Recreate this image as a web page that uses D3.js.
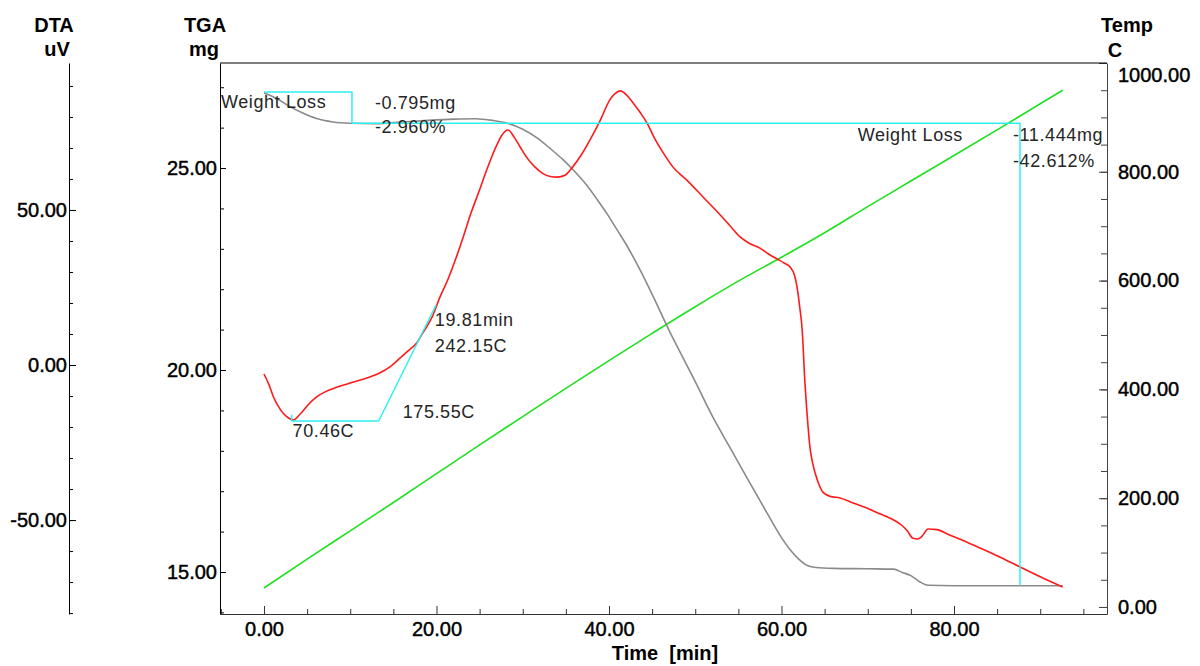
<!DOCTYPE html>
<html>
<head>
<meta charset="utf-8">
<script src="https://cdn.jsdelivr.net/npm/d3@7"></script>
<style>
  body { margin: 0; background: #fff; }
  svg { font-family: "Liberation Sans", Arial, sans-serif; }
</style>
</head>
<body>
<div id="chart"></div>
<script>
// TGA (mg) vs time (min)
const tgaTime = [0, 1.5, 3, 4.5, 6, 8, 10, 13, 16, 19, 22, 24.5, 26.5, 28.2, 30, 31.7, 33.2, 34.7, 36, 37.4,
  38.6, 39.8, 41, 42.1, 43.3, 44.4, 45.5, 46.7, 48.2, 50, 52, 54, 56, 58, 60, 61, 62, 63, 64, 66, 70, 73,
  74, 75, 76, 77, 80, 85, 90, 92.6];
const tgaMass = [26.86, 26.72, 26.52, 26.36, 26.23, 26.14, 26.11, 26.10, 26.14, 26.18, 26.21, 26.22, 26.18,
  26.11, 25.96, 25.74, 25.48, 25.20, 24.92, 24.58, 24.23, 23.86, 23.45, 23.07, 22.60, 22.14, 21.65, 21.10,
  20.46, 19.71, 18.85, 18.09, 17.33, 16.58, 15.85, 15.55, 15.32, 15.16, 15.11, 15.09, 15.08, 15.07, 14.99,
  14.91, 14.76, 14.67, 14.66, 14.66, 14.66, 14.66];

// DTA (uV) vs time (min)
const dtaTime = [0, 0.6, 1.1, 1.7, 2.2, 2.8, 3.4, 4.2, 5.0, 6.1, 7.2, 8.5, 10, 11.9, 13.4, 14.6, 15.8, 16.8,
  17.7, 18.4, 19.5, 20.4, 21.3, 22.2, 23.1, 24.0, 25.0, 25.7, 26.4, 27.0, 27.6, 28.3, 29.0, 29.7, 30.5, 31.4,
  32.3, 33.2, 34.0, 34.9, 35.8, 36.8, 37.8, 39.0, 40.1, 40.7, 41.3, 42.0, 42.8, 43.6, 44.4, 45.3, 46.3, 47.4,
  49.0, 50.9, 52.9, 54.0, 55.2, 56.3, 57.5, 58.5, 59.5, 60.3, 61.0, 61.5, 61.8, 62.1, 62.4,
  62.7, 63.0, 63.3, 63.6, 63.9, 64.3, 64.8, 65.6, 66.8, 68.3, 69.9, 71.4, 72.9, 73.9, 74.6, 75.2, 75.8, 76.3,
  77.0, 78.0, 79.5, 81.0, 83.0, 85.3, 87.7, 90.0, 92.6];
const dtaValue = [-2.9, -6.5, -10.3, -13.5, -15.5, -17.0, -17.7, -15.8, -13.2, -10.3, -8.5, -7.1, -5.8, -4.2,
  -2.6, -0.6, 2.3, 4.8, 7.1, 10.3, 15.5, 21.9, 27.4, 34.0, 41.3, 49.0, 56.5, 62.0, 67.1, 71.0, 74.2, 75.8,
  73.5, 70.3, 66.8, 63.9, 61.8, 60.8, 60.6, 61.2, 63.9, 67.8, 72.6, 79.0, 85.5, 87.5, 88.4, 87.2, 84.5, 81.5,
  78.1, 73.0, 68.4, 63.9, 59.7, 54.2, 48.4, 45.0, 41.3, 39.2, 37.7, 35.8, 34.2, 32.9, 31.6,
  29.0, 25.2, 19.0, 11.3, -4.8, -17.0, -26.5, -31.5, -34.8, -38.2, -41.0, -42.3, -42.9, -44.5, -46.1, -48.0,
  -49.8, -51.6, -53.5, -55.8, -56.1, -55.2, -52.9, -53.1, -54.8, -56.5, -59.0, -61.9, -65.2, -68.3, -71.6];

// Temperature (C) vs time (min)
const tempTime = [0, 5, 10, 15, 20, 25, 30, 35, 40, 45, 50, 55, 60, 65, 70, 75, 80, 85, 90, 92.6];
const tempValue = [35, 88, 140, 192, 245, 298, 350, 402, 453, 503, 552, 599, 643, 688, 736, 783, 830, 877, 925, 950];

// weight loss steps: [time, mg]
const weightLoss1 = [[0, 26.88], [10.2, 26.88], [10.2, 26.11]];
const weightLoss2 = [[10.2, 26.11], [87.65, 26.11], [87.65, 14.67]];
const weightLoss1Text = ['Weight Loss', '-0.795mg', '-2.960%'];
const weightLoss2Text = ['Weight Loss', '-11.444mg', '-42.612%'];

// DTA onset construction: [time, uV]
const onsetBase = [[3.2, -18.06], [13.3, -18.06]];
const onsetTangent = [[13.3, -18.06], [19.95, 19.35]];
const onsetTick = [[3.2, -18.06], [3.2, -16.0]];
const onsetText = ['70.46C', '175.55C', '19.81min', '242.15C'];

// ticks
const timeTicks = [0, 20, 40, 60, 80];
const tgaTicks = [15, 20, 25];
const dtaTicks = [-50, 0, 50];
const tempTicks = [0, 200, 400, 600, 800, 1000];

const margin = {
  top: 63, right: 93, bottom: 52, left: 220,
};
const width = 1200 - margin.left - margin.right;
const height = 666 - margin.top - margin.bottom;

const x = d3.scaleLinear().domain([-5.1, 97.74]).range([0, width]);
const yTGA = d3.scaleLinear().domain([13.96, 27.6]).range([height, 0]);
const yDTA = d3.scaleLinear().domain([-80.3, 97.4]).range([height, 0]);
const yTemp = d3.scaleLinear().domain([-12.9, 1000]).range([height, 0]);

const svg = d3.select('#chart').append('svg')
  .attr('width', 1200)
  .attr('height', 666)
  .append('g')
  .attr('transform', `translate(${margin.left},${margin.top})`);

const fmt = (d) => d.toFixed(2);
const styleAxis = (g, col) => g.attr('font-size', 20)
  .attr('font-family', '"Liberation Sans", Arial, sans-serif')
  .style('color', col)
  .call((s) => s.selectAll('text').attr('fill', '#000')
    .attr('stroke', '#000').attr('stroke-width', 0.45));
const noDomain = (g) => g.select('.domain').remove();

// x axis
svg.append('g')
  .attr('transform', `translate(0,${height})`)
  .call(d3.axisBottom(x).tickValues(d3.range(-5, 98, 5).filter((d) => d % 20 !== 0)).tickSize(-5).tickFormat(''))
  .call(noDomain)
  .style('color', '#333');
svg.append('g')
  .attr('transform', `translate(0,${height})`)
  .call(d3.axisBottom(x).tickValues(timeTicks).tickFormat(fmt)
    .tickSizeInner(-8).tickSizeOuter(0).tickPadding(8))
  .call((g) => styleAxis(g, '#333'));

// TGA axis
svg.append('g')
  .call(d3.axisLeft(yTGA).tickValues(d3.range(14, 28, 1)).tickSize(-4).tickFormat(''))
  .call(noDomain)
  .style('color', '#000');
svg.append('g')
  .call(d3.axisLeft(yTGA).tickValues(tgaTicks).tickFormat(fmt)
    .tickSizeInner(-6).tickSizeOuter(0).tickPadding(3))
  .call((g) => styleAxis(g, '#000'));

// DTA axis, detached on the far left
svg.append('g')
  .attr('transform', 'translate(-151,0)')
  .call(d3.axisLeft(yDTA).tickValues(d3.range(-80, 98, 10)).tickSize(-4).tickFormat(''))
  .call(noDomain)
  .style('color', '#000');
svg.append('g')
  .attr('transform', 'translate(-151,0)')
  .call(d3.axisLeft(yDTA).tickValues(dtaTicks).tickFormat(fmt)
    .tickSizeInner(-7).tickSizeOuter(0).tickPadding(2))
  .call((g) => styleAxis(g, '#000'));

// Temp axis on the right
svg.append('g')
  .attr('transform', `translate(${width},0)`)
  .call(d3.axisRight(yTemp).tickValues(d3.range(0, 1001, 50)).tickSize(-6).tickFormat(''))
  .call(noDomain)
  .style('color', '#444');
svg.append('g')
  .attr('transform', `translate(${width},0)`)
  .call(d3.axisRight(yTemp).tickValues(tempTicks).tickFormat(fmt)
    .tickSizeInner(-8).tickSizeOuter(0).tickPadding(11))
  .call((g) => styleAxis(g, '#444'))
  .call((g) => g.selectAll('.tick').filter((d) => d === 1000).select('text').attr('y', 12));

// top frame line
svg.append('line')
  .attr('x1', 0).attr('x2', width)
  .attr('y1', 0).attr('y2', 0)
  .attr('stroke', '#000');

// axis titles
const title = (tx, ty, txt, anchor = 'middle') => svg.append('text')
  .attr('x', tx - margin.left).attr('y', ty - margin.top)
  .attr('text-anchor', anchor)
  .attr('font-size', 20).attr('font-weight', 'bold')
  .style('white-space', 'pre')
  .text(txt);
title(54, 32, 'DTA');
title(57, 56, 'uV');
title(205, 32, 'TGA');
title(204, 56, 'mg');
title(1127, 32, 'Temp');
title(1115, 57, 'C');
title(665, 660, 'Time  [min]');

// curves
const lineOf = (ys) => d3.line().x((d) => x(d[0])).y((d) => ys(d[1])).curve(d3.curveMonotoneX);

svg.append('path')
  .datum(d3.zip(tempTime, tempValue))
  .attr('d', lineOf(yTemp))
  .attr('fill', 'none').attr('stroke', '#1fe01f').attr('stroke-width', 1.6);

svg.append('path')
  .datum(d3.zip(tgaTime, tgaMass))
  .attr('d', lineOf(yTGA))
  .attr('fill', 'none').attr('stroke', '#8a8a8a').attr('stroke-width', 1.6);

svg.append('path')
  .datum(d3.zip(dtaTime, dtaValue))
  .attr('d', lineOf(yDTA))
  .attr('fill', 'none').attr('stroke', '#ff1a1a').attr('stroke-width', 1.6);

// annotations (cyan)
const straight = (ys) => d3.line().x((d) => x(d[0])).y((d) => ys(d[1]));
const cyan = '#2ef0f0';
[weightLoss1, weightLoss2].forEach((pts) => svg.append('path')
  .attr('d', straight(yTGA)(pts))
  .attr('fill', 'none').attr('stroke', cyan).attr('stroke-width', 1.5));
[onsetBase, onsetTangent, onsetTick].forEach((pts) => svg.append('path')
  .attr('d', straight(yDTA)(pts))
  .attr('fill', 'none').attr('stroke', cyan).attr('stroke-width', 1.5));

const note = (nx, ny, txt, anchor = 'start') => svg.append('text')
  .attr('x', nx).attr('y', ny)
  .attr('text-anchor', anchor)
  .attr('font-size', 18)
  .attr('letter-spacing', 0.6)
  .attr('fill', '#262626')
  .text(txt);

note(1, yTGA(weightLoss1[0][1]) + 16, weightLoss1Text[0]);
note(x(weightLoss1[1][0]) + 23, yTGA(weightLoss1[0][1]) + 17, weightLoss1Text[1]);
note(x(weightLoss1[1][0]) + 23, yTGA(weightLoss1[2][1]) + 10, weightLoss1Text[2]);

note(x(weightLoss2[1][0]) - 57, yTGA(weightLoss2[1][1]) + 18, weightLoss2Text[0], 'end');
note(x(weightLoss2[1][0]) - 7, yTGA(weightLoss2[1][1]) + 18, weightLoss2Text[1]);
note(x(weightLoss2[1][0]) - 7, yTGA(weightLoss2[1][1]) + 44, weightLoss2Text[2]);

note(x(onsetBase[0][0]) + 1, yDTA(onsetBase[0][1]) + 16, onsetText[0]);
note(x(onsetBase[1][0]) + 24, yDTA(onsetBase[1][1]) - 3, onsetText[1]);
note(x(19.81), yDTA(onsetTangent[1][1]) + 21, onsetText[2]);
note(x(19.81), yDTA(onsetTangent[1][1]) + 47, onsetText[3]);
</script>
</body>
</html>
